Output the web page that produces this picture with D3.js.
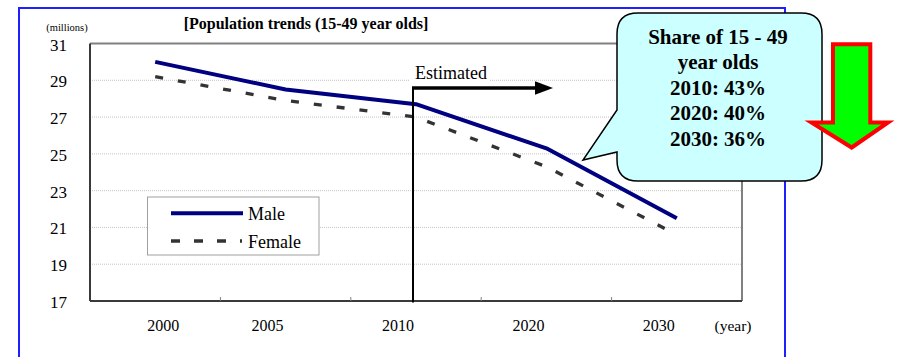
<!DOCTYPE html>
<html>
<head>
<meta charset="utf-8">
<script src="https://cdn.jsdelivr.net/npm/d3@7"></script>
<style>
  html, body { margin: 0; padding: 0; background: #fff; }
  svg { display: block; }
  text { font-family: "Liberation Serif", "Times New Roman", serif; fill: #000; }
</style>
</head>
<body>
<svg id="chart" width="899" height="357"></svg>
<script>
// Population aged 15-49, millions
const years = ["2000", "2005", "2010", "2020", "2030"];
const male = [30.0, 28.5, 27.7, 25.3, 21.5];
const female = [29.2, 27.9, 27.0, 24.3, 20.6];
const yTicks = [17, 19, 21, 23, 25, 27, 29, 31];
const seriesNames = ["Male", "Female"];
const shareLines = ["Share of 15 - 49", "year olds", "2010: 43%", "2020: 40%", "2030: 36%"];
const estimatedFrom = "2010";

const svg = d3.select("#chart");

const plot = { left: 90, right: 742, top: 43.5, bottom: 301 };

const x = d3.scaleBand().domain(years).range([plot.left, plot.right]).padding(0);
const y = d3.scaleLinear().domain([17, 31]).range([plot.bottom, plot.top]);
const cx = d => x(d) + x.bandwidth() / 2;

// outer blue frame
svg.append("rect")
  .attr("x", 19).attr("y", 8).attr("width", 766).attr("height", 420)
  .attr("fill", "none").attr("stroke", "#1f1fff").attr("stroke-width", 2);

// horizontal gridlines
svg.append("g").selectAll("line")
  .data(yTicks.filter(v => v > 17 && v < 31))
  .join("line")
  .attr("x1", plot.left).attr("x2", plot.right)
  .attr("y1", d => y(d)).attr("y2", d => y(d))
  .attr("stroke", "#c4c4c4").attr("stroke-width", 1)
  .attr("stroke-dasharray", "1,1");

// plot frame: top and right light, axes dark
svg.append("line").attr("x1", plot.left).attr("x2", plot.right)
  .attr("y1", plot.top).attr("y2", plot.top)
  .attr("stroke", "#808080").attr("stroke-width", 2);
svg.append("line").attr("x1", plot.right).attr("x2", plot.right)
  .attr("y1", plot.top).attr("y2", plot.bottom)
  .attr("stroke", "#808080").attr("stroke-width", 2);
svg.append("line").attr("x1", plot.left).attr("x2", plot.left)
  .attr("y1", plot.top).attr("y2", plot.bottom)
  .attr("stroke", "#3a3a3a").attr("stroke-width", 2);
svg.append("line").attr("x1", plot.left).attr("x2", plot.right)
  .attr("y1", plot.bottom).attr("y2", plot.bottom)
  .attr("stroke", "#3a3a3a").attr("stroke-width", 2);

// x-axis category ticks between bands
svg.append("g").selectAll("line")
  .data(years.slice(1))
  .join("line")
  .attr("x1", d => x(d)).attr("x2", d => x(d))
  .attr("y1", plot.bottom).attr("y2", plot.bottom - 4)
  .attr("stroke", "#808080").attr("stroke-width", 1);

// y tick labels
svg.append("g").selectAll("text")
  .data(yTicks)
  .join("text")
  .attr("x", 67).attr("y", d => y(d) + 1.5)
  .attr("text-anchor", "end").attr("dominant-baseline", "central")
  .style("font-size", "17px")
  .text(d => d);

// x tick labels
svg.append("g").selectAll("text")
  .data(years)
  .join("text")
  .attr("x", d => cx(d)).attr("dx", (d, i) => i === 0 ? 8 : -18)
  .attr("y", 331)
  .attr("text-anchor", "middle")
  .style("font-size", "16px")
  .text(d => d);

svg.append("text").attr("x", 733).attr("y", 331).attr("text-anchor", "middle")
  .style("font-size", "15.5px").text("(year)");
svg.append("text").attr("x", 67).attr("y", 31).attr("text-anchor", "middle")
  .style("font-size", "10.5px").text("(millions)");

// title
svg.append("text").attr("x", 306).attr("y", 29).attr("text-anchor", "middle")
  .style("font-size", "16px").style("font-weight", "bold")
  .text("[Population trends (15-49 year olds]");

// series lines
const line = d3.line().x((d, i) => cx(years[i])).y(d => y(d));

svg.append("path").datum(female)
  .attr("d", line).attr("fill", "none")
  .attr("stroke", "#333333").attr("stroke-width", 3.3)
  .attr("stroke-dasharray", "8,15");

svg.append("path").datum(male)
  .attr("d", line).attr("fill", "none")
  .attr("stroke", "#000080").attr("stroke-width", 4)
  .attr("stroke-linejoin", "round");

// "Estimated" marker
const ex = cx(estimatedFrom) - 3;
const arrowY = 88;
svg.append("rect").attr("x", 410).attr("y", 64).attr("width", 80).attr("height", 19)
  .attr("fill", "#fff");
svg.append("text").attr("x", 415).attr("y", 78.5)
  .style("font-size", "18px").text("Estimated");
svg.append("line").attr("x1", ex).attr("x2", ex)
  .attr("y1", arrowY - 1).attr("y2", plot.bottom + 1.5)
  .attr("stroke", "#000").attr("stroke-width", 2);
svg.append("line").attr("x1", ex - 1).attr("x2", 537)
  .attr("y1", arrowY).attr("y2", arrowY)
  .attr("stroke", "#000").attr("stroke-width", 3.5);
svg.append("path")
  .attr("d", `M535,${arrowY - 6.8}L553,${arrowY}L535,${arrowY + 6.8}Z`)
  .attr("fill", "#000");

// legend
const lg = svg.append("g");
lg.append("rect").attr("x", 147.5).attr("y", 197).attr("width", 171.5).attr("height", 58)
  .attr("fill", "#fff").attr("stroke", "#a0a0a0").attr("stroke-width", 1);
lg.append("line").attr("x1", 171).attr("x2", 243).attr("y1", 213.3).attr("y2", 213.3)
  .attr("stroke", "#000080").attr("stroke-width", 4);
lg.append("line").attr("x1", 171).attr("x2", 242).attr("y1", 241).attr("y2", 241)
  .attr("stroke", "#333333").attr("stroke-width", 3.3)
  .attr("stroke-dasharray", "9,14");
lg.selectAll("text").data(seriesNames).join("text")
  .attr("x", 248).attr("y", (d, i) => 220 + i * 27.5)
  .style("font-size", "18px").text(d => d);

// share callout with pointer
const bx0 = 617, bx1 = 822, by0 = 13, by1 = 181, r = 21;
const callout = d3.path();
callout.moveTo(bx0 + r, by0);
callout.lineTo(bx1 - r, by0);
callout.quadraticCurveTo(bx1, by0, bx1, by0 + r);
callout.lineTo(bx1, by1 - r);
callout.quadraticCurveTo(bx1, by1, bx1 - r, by1);
callout.lineTo(bx0 + r, by1);
callout.quadraticCurveTo(bx0, by1, bx0, by1 - r);
callout.lineTo(bx0, 152);
callout.lineTo(583, 160);
callout.lineTo(bx0, 110);
callout.lineTo(bx0, by0 + r);
callout.quadraticCurveTo(bx0, by0, bx0 + r, by0);
callout.closePath();
svg.append("path").attr("d", callout.toString())
  .attr("fill", "#ccffff").attr("stroke", "#000").attr("stroke-width", 1.5);

svg.append("g").selectAll("text").data(shareLines).join("text")
  .attr("x", 718).attr("y", (d, i) => 43.5 + i * 25.6)
  .attr("text-anchor", "middle")
  .style("font-size", "21px").style("font-weight", "bold")
  .text(d => d);

// downward green arrow
svg.append("path")
  .attr("d", "M833,44.3L870.3,44.3L870.3,122.5L888,122.5L851.7,147.5L811.5,122.5L833,122.5Z")
  .attr("fill", "#00ff00").attr("stroke", "#ff0000").attr("stroke-width", 4)
  .attr("stroke-linejoin", "miter");
</script>
</body>
</html>
